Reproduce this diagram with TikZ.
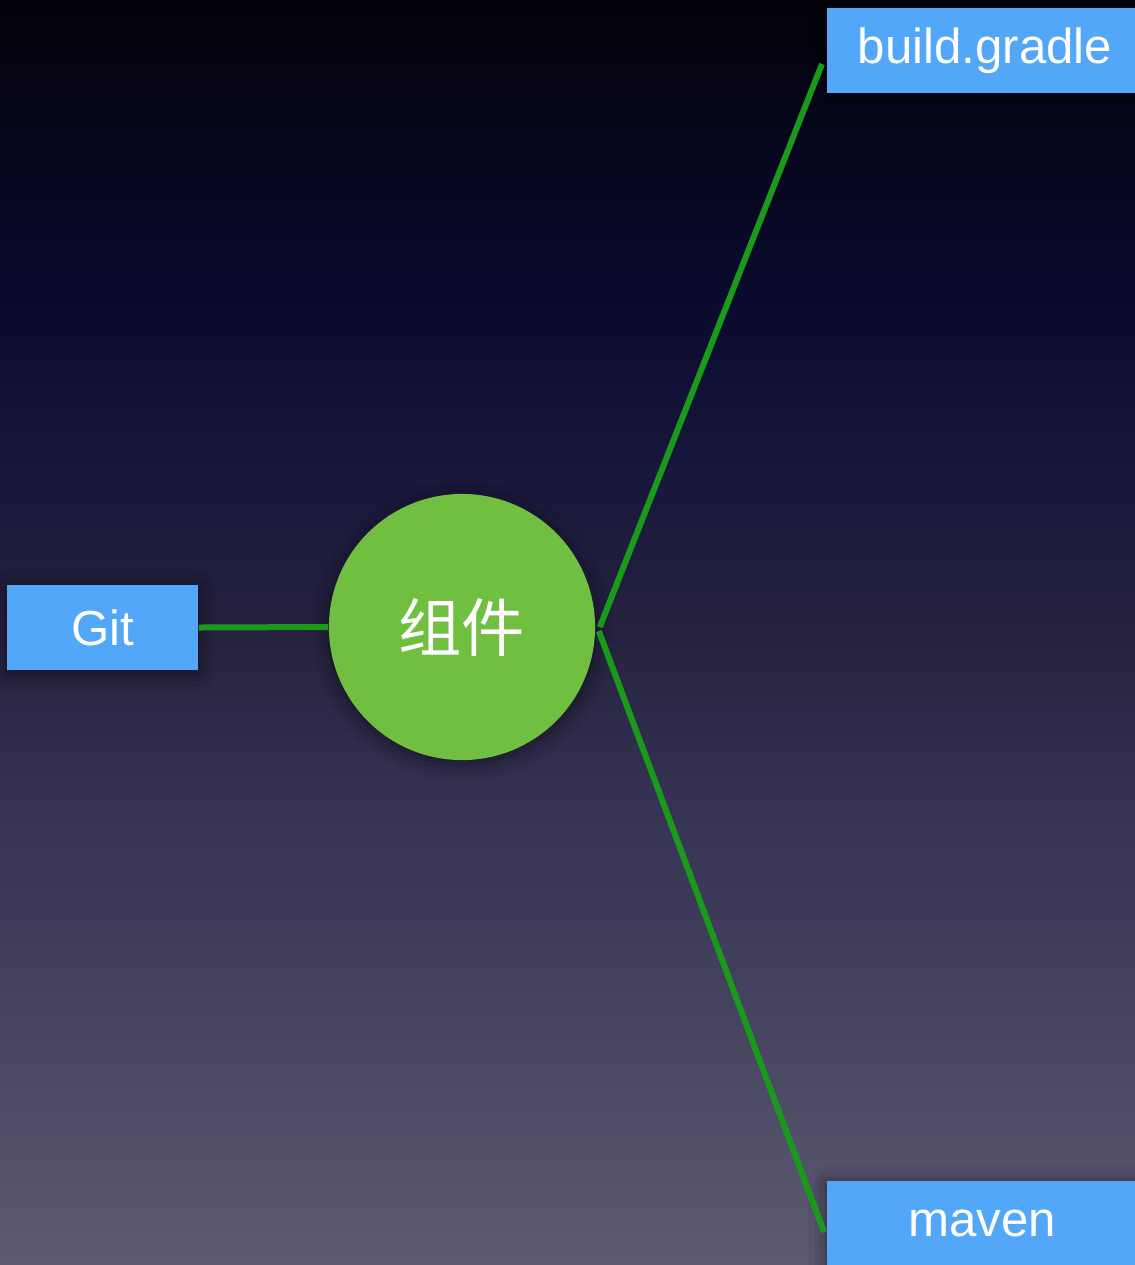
\documentclass[tikz,border=0pt]{standalone}
\usepackage{fontspec}
\setmainfont{Liberation Sans}
\newfontfamily\cjk{Noto Sans CJK SC}
\usetikzlibrary{shadows.blur}
\definecolor{boxblue}{HTML}{52A7F9}
\definecolor{leafgreen}{HTML}{70BF41}
\definecolor{linkgreen}{HTML}{1A9A1A}
\definecolor{sky0}{HTML}{020208}
\definecolor{sky1}{HTML}{050518}
\definecolor{sky2}{HTML}{0A0A2E}
\definecolor{sky3}{HTML}{16163C}
\definecolor{sky4}{HTML}{25223F}
\definecolor{sky5}{HTML}{353253}
\definecolor{sky6}{HTML}{45425F}
\definecolor{sky7}{HTML}{5D5A72}
\pgfdeclareverticalshading{sky}{100bp}{color(0bp)=(sky7); color(25bp)=(sky7);
  color(35.5bp)=(sky6); color(43.4bp)=(sky5); color(50.2bp)=(sky4);
  color(57.2bp)=(sky3); color(63.1bp)=(sky2); color(71bp)=(sky1);
  color(75bp)=(sky0); color(100bp)=(sky0)}

\begin{document}
\begin{tikzpicture}[x=0.01cm, y=-0.01cm,
    soft/.style={blur shadow={shadow xshift=0pt, shadow yshift=-1pt,
      shadow blur radius=5pt, shadow opacity=55}},
    box/.style={fill=boxblue, text=white, inner sep=0pt, minimum height=0.85cm,
      font=\fontsize{14}{16}\selectfont, soft},
    link/.style={linkgreen, line width=0.06cm}]
    \useasboundingbox (0, 0) rectangle (1135, 1265);
    \shade[shading=sky] (0, 0) rectangle (1135, 1265);
    % centre and the three parts
    \node[circle, fill=leafgreen, minimum size=2.66cm, inner sep=0pt, text=white,
      font=\cjk\fontsize{18}{20}\selectfont, soft] (core) at (462, 627) {组件};
    \node[box, minimum width=1.91cm] (git) at (102.5, 627.5) {\raisebox{-2pt}{Git}};
    \node[box, minimum width=3.16cm] (gradle) at (985, 50.5) {\raisebox{-2pt}{build.gradle}};
    \node[box, minimum width=3.10cm] (maven) at (982, 1223.5) {\raisebox{-2pt}{maven}};
    \coordinate (gradletip) at (822, 64);
    \coordinate (maventip) at (824, 1232);
    \draw[link] (git.east) -- (core.west);
    \draw[link] ([xshift=0.04cm]core.east) -- (gradletip);
    \draw[link] ([xshift=0.03cm, yshift=-0.04cm]core.east) -- (maventip);
  \end{tikzpicture}
\end{document}
